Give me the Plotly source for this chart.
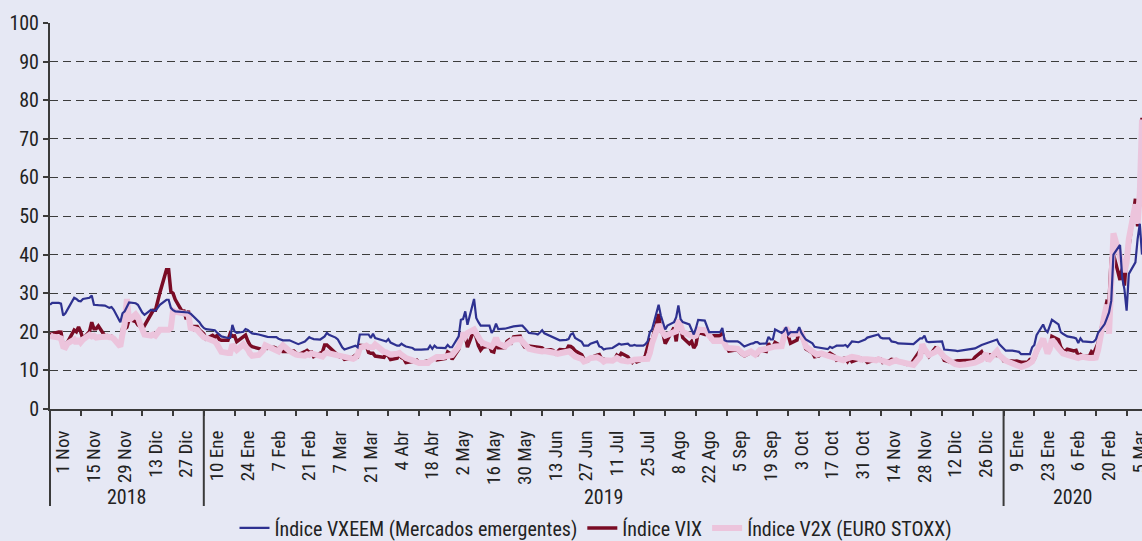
import pandas as pd
import plotly.graph_objects as go

START = "2018-11-01"
END = "2020-03-12"
dates = pd.bdate_range(START, END)

# Índice VXEEM (Mercados emergentes) - one value per weekday
vxeem = [
    27.0, 27.5,
    27.5, 27.3, 24.2, 24.8, 25.8,
    28.8, 28.5, 28.0, 27.9, 28.5,
    28.8, 29.4, 27.0, 27.0, 26.9,
    26.8, 26.5, 26.2, 26.4, 25.7,
    22.5, 24.8, 25.3, 26.5, 27.6,
    27.4, 27.0, 26.0, 25.0, 24.4,
    25.7, 25.5, 25.5, 26.2, 27.0,
    28.3, 28.3, 26.2, 25.6, 25.3,
    25.2, 25.2, 25.0, 25.0, 24.7,
    23.1, 22.5, 21.6, 21.0, 20.7,
    20.4, 20.4, 19.8, 19.3, 18.8,
    18.4, 18.4, 21.8, 20.1, 19.7,
    20.0, 20.7, 20.5, 20.0, 19.6,
    19.3, 19.1, 18.9, 18.7, 18.7,
    18.6, 18.6, 18.2, 18.0, 17.8,
    17.8, 17.5, 17.2, 16.9, 16.8,
    17.5, 18.0, 18.6, 18.3, 18.1,
    18.0, 18.4, 18.8, 19.7, 19.2,
    18.5, 18.0, 17.0, 16.0, 15.4,
    15.9, 16.2, 16.4, 16.0, 19.3,
    19.3, 19.3, 18.4, 19.5, 18.4,
    18.0, 17.7, 17.5, 18.1, 17.2,
    16.4, 16.4, 16.9, 16.5, 16.2,
    15.8, 15.4, 15.4, 15.3, 15.4,
    15.5, 16.4, 15.6, 16.4, 15.9,
    15.8, 15.8, 16.6, 16.0, 16.0,
    18.8, 23.1, 23.3, 25.3, 21.8,
    28.5, 23.6, 22.5, 21.6, 21.6,
    21.6, 19.7, 20.5, 22.1, 20.7,
    20.8, 21.0, 21.1, 21.2, 21.4,
    21.6, 21.6, 21.0, 20.4, 19.7,
    19.5, 19.3, 19.8, 20.4, 19.6,
    18.8, 18.4, 18.2, 17.9, 17.8,
    17.9, 18.1, 19.3, 19.6, 18.4,
    17.4, 16.4, 16.4, 16.4, 16.9,
    17.5, 16.2, 16.0, 15.4, 15.6,
    15.8, 16.1, 16.5, 16.9, 16.7,
    16.9, 16.4, 16.4, 16.6, 16.4,
    16.4, 16.8, 17.5, 19.9, 20.6,
    27.0, 24.2, 22.5, 20.6, 21.6,
    22.5, 23.8, 26.8, 23.3, 22.5,
    21.9, 20.5, 19.3, 21.0, 23.1,
    22.9, 21.4, 19.9, 19.9, 19.9,
    19.9, 21.0, 17.8, 17.6, 17.5,
    17.5, 17.5, 17.2, 16.6, 16.2,
    16.9, 17.0, 17.3, 17.3, 16.9,
    17.0, 18.7, 18.0, 18.0, 20.6,
    19.7, 20.2, 21.2, 19.3, 19.9,
    19.9, 21.2, 19.7, 18.8, 18.0,
    17.0, 16.1, 16.0, 15.9, 15.8,
    15.5, 16.1, 15.8, 16.1, 16.4,
    16.4, 16.6, 16.1, 16.8, 17.5,
    17.3, 17.5, 17.8, 18.0, 18.5,
    19.0, 19.1, 19.3, 18.5, 18.3,
    18.3, 17.5, 17.4, 17.3, 17.0,
    16.9, 16.8, 16.8, 16.8, 16.8,
    18.3, 18.3, 19.0, 17.5, 17.3,
    17.4, 17.5, 17.5, 17.5, 15.4,
    15.3, 15.1, 15.1, 15.0, 15.1,
    15.3, 15.4, 15.5, 15.6, 15.7,
    16.6, 16.8, 17.0, 17.2, 17.2,
    18.0, 16.8, 16.2, 15.6, 15.1,
    15.1, 15.0, 15.0, 14.8, 14.2,
    14.2, 14.2, 16.0, 16.6, 19.1,
    21.9, 20.5, 19.9, 21.5, 23.1,
    21.9, 19.9, 19.5, 19.1, 18.8,
    18.5, 18.3, 17.1, 18.3, 17.5,
    17.3, 17.3, 17.4, 18.0, 19.7,
    22.0, 23.5, 25.0, 28.0, 40.0,
    42.5, 34.0, 31.0, 25.5, 35.0,
    38.0, 44.0, 48.0, 40.0,
]

# Índice VIX
vix = [
    19.34, 19.51,
    19.96, 19.91, 16.36, 16.72, 17.36,
    20.45, 20.02, 21.25, 19.98, 18.14,
    20.10, 22.48, 20.80, 20.80, 21.52,
    18.90, 19.02, 18.49, 18.79, 18.07,
    16.44, 20.74, 20.74, 21.19, 23.23,
    22.64, 21.76, 21.46, 20.65, 21.63,
    24.52, 25.58, 25.58, 28.38, 30.11,
    36.07, 36.07, 30.41, 29.96, 28.34,
    25.42, 25.42, 23.22, 25.45, 21.38,
    21.40, 20.47, 19.98, 19.50, 18.19,
    19.07, 18.60, 19.04, 18.06, 17.80,
    17.80, 19.52, 18.89, 18.93, 17.42,
    18.87, 19.13, 17.66, 16.57, 16.14,
    15.73, 15.57, 15.38, 16.37, 15.72,
    15.97, 15.65, 15.43, 16.22, 14.91,
    14.91, 14.88, 15.02, 14.46, 14.02,
    14.85, 15.17, 14.70, 14.78, 13.57,
    14.63, 14.74, 16.59, 16.59, 16.05,
    14.33, 13.77, 13.41, 13.50, 12.88,
    13.10, 13.56, 13.91, 13.63, 16.48,
    16.33, 14.68, 14.43, 14.43, 13.71,
    13.40, 13.36, 14.29, 13.74, 12.82,
    13.18, 14.28, 13.30, 13.02, 12.01,
    12.32, 12.18, 12.60, 12.09, 12.09,
    12.42, 12.28, 12.73, 13.14, 12.73,
    13.11, 13.12, 14.80, 14.42, 12.87,
    15.44, 19.32, 19.40, 19.10, 16.04,
    20.55, 18.06, 16.44, 15.29, 15.96,
    16.31, 14.95, 14.75, 16.92, 15.85,
    15.85, 17.50, 17.90, 17.30, 18.71,
    18.86, 16.97, 16.09, 15.93, 16.30,
    15.94, 15.99, 15.91, 15.82, 15.28,
    15.35, 15.15, 14.33, 14.75, 15.40,
    15.26, 16.28, 16.21, 15.82, 15.08,
    14.06, 12.93, 12.57, 12.57, 13.28,
    13.96, 14.09, 13.03, 12.93, 12.39,
    12.68, 12.86, 13.97, 13.53, 14.45,
    13.53, 12.61, 12.07, 12.74, 12.16,
    12.83, 13.94, 16.12, 17.87, 17.61,
    24.59, 20.17, 19.49, 16.91, 17.97,
    21.09, 17.52, 22.10, 21.18, 18.47,
    16.88, 17.50, 15.80, 16.68, 19.87,
    19.32, 20.31, 19.35, 17.88, 18.98,
    18.98, 19.66, 17.33, 16.27, 15.00,
    15.27, 15.20, 14.61, 14.22, 13.74,
    14.67, 14.44, 13.95, 14.05, 15.32,
    14.91, 17.05, 15.96, 16.07, 17.22,
    16.24, 18.56, 20.56, 19.12, 17.04,
    17.86, 20.28, 18.64, 17.57, 15.58,
    14.57, 13.54, 13.68, 13.79, 14.25,
    14.00, 14.46, 14.01, 13.71, 12.65,
    13.11, 13.20, 12.33, 13.22, 12.30,
    12.83, 13.10, 12.62, 12.73, 12.07,
    12.69, 12.68, 13.05, 13.00, 12.05,
    12.46, 12.86, 12.78, 12.72, 12.34,
    11.87, 11.54, 11.75, 11.75, 12.62,
    14.91, 15.96, 14.80, 14.52, 13.62,
    15.86, 15.68, 14.99, 13.94, 12.63,
    12.14, 12.29, 12.58, 12.50, 12.51,
    12.61, 12.67, 12.67, 12.65, 13.43,
    14.82, 13.78, 13.78, 12.47, 14.02,
    13.85, 13.79, 13.45, 12.54, 12.56,
    12.32, 12.39, 12.42, 12.32, 12.10,
    12.10, 12.85, 12.91, 12.98, 14.56,
    18.23, 16.28, 16.39, 15.49, 18.84,
    17.97, 16.05, 15.15, 14.96, 15.47,
    15.04, 15.18, 13.74, 14.15, 13.68,
    13.68, 14.83, 14.38, 15.56, 17.08,
    25.03, 27.85, 27.56, 39.16, 40.11,
    33.42, 36.82, 31.99, 39.62, 41.94,
    54.46, 47.30, 53.90, 75.47,
]

# Índice V2X (EURO STOXX)
v2x = [
    19.2, 18.8,
    18.5, 18.3, 16.2, 16.0, 17.0,
    18.0, 17.0, 18.2, 17.3, 18.0,
    19.2, 18.8, 19.0, 18.5, 18.6,
    19.0, 18.8, 18.6, 18.6, 18.2,
    16.2, 19.5, 22.0, 28.5, 23.0,
    24.5, 23.8, 22.0, 20.5, 19.3,
    19.0, 19.3, 19.0, 20.0, 20.5,
    20.5, 20.5, 21.0, 25.5, 25.2,
    25.0, 25.0, 24.8, 24.5, 21.0,
    20.5, 19.8, 19.0, 18.6, 18.4,
    18.0, 17.5, 16.8, 15.5, 14.8,
    14.5, 14.5, 16.7, 15.6, 15.3,
    16.8, 16.2, 15.5, 14.4, 13.8,
    14.0, 14.5, 15.2, 16.5, 16.2,
    15.4, 15.0, 14.9, 15.8, 16.5,
    15.0, 14.6, 14.3, 14.1, 14.0,
    13.8, 14.2, 14.0, 14.4, 14.2,
    13.8, 13.6, 14.3, 14.6, 14.4,
    14.0, 13.8, 13.6, 13.6, 13.4,
    13.2, 13.0, 13.3, 14.0, 15.8,
    16.4, 16.0, 16.2, 16.0, 16.7,
    15.0, 14.8, 14.7, 14.4, 14.1,
    14.3, 14.5, 14.0, 13.5, 13.2,
    12.6, 12.3, 12.0, 11.9, 11.9,
    11.9, 12.5, 12.8, 13.3, 13.5,
    13.5, 13.6, 13.7, 14.1, 14.0,
    16.2, 18.5, 19.7, 18.8, 19.7,
    20.6, 19.5, 18.4, 17.6, 17.1,
    16.5, 16.2, 17.0, 18.4, 17.0,
    16.2, 16.7, 17.0, 17.5, 18.0,
    18.1, 17.5, 16.4, 16.0, 15.6,
    15.2, 15.0, 14.9, 14.9, 15.0,
    14.9, 14.6, 14.5, 14.3, 14.5,
    14.8, 14.9, 14.6, 14.0, 13.6,
    13.0, 12.3, 12.5, 12.8, 13.2,
    13.4, 13.2, 12.8, 12.3, 12.6,
    12.5, 12.8, 13.2, 12.9, 12.6,
    12.3, 12.3, 12.5, 12.8, 12.9,
    12.8, 12.9, 13.0, 14.5, 17.0,
    21.9, 20.5, 19.7, 19.0, 19.3,
    19.8, 20.1, 23.1, 21.5, 20.0,
    19.2, 18.9, 18.8, 19.0, 20.6,
    20.4, 20.1, 19.0, 18.0, 17.6,
    17.6, 18.0, 17.0, 15.9, 15.8,
    15.8, 15.6, 15.0, 14.3, 14.1,
    14.9, 14.6, 14.1, 14.6, 15.2,
    15.6, 15.8, 15.9, 16.0, 16.2,
    16.3, 19.3, 21.0, 20.2, 19.3,
    19.5, 20.1, 19.7, 18.0, 16.2,
    14.9, 14.2, 14.1, 14.3, 14.4,
    13.8, 13.6, 13.5, 13.2, 12.8,
    12.6, 12.9, 13.2, 13.4, 13.5,
    13.2, 12.8, 12.9, 13.0, 12.9,
    12.7, 12.6, 12.9, 12.7, 12.6,
    11.9, 12.2, 12.5, 12.6, 12.3,
    11.9, 11.8, 11.6, 11.5, 11.4,
    13.5, 16.8, 15.5, 14.4, 14.0,
    14.8, 15.4, 14.8, 14.0, 13.5,
    12.3, 11.8, 11.6, 11.5, 11.4,
    11.6, 11.7, 11.8, 11.8, 12.0,
    12.8, 13.5, 14.4, 12.5, 13.2,
    15.0, 14.0, 13.5, 12.7, 12.5,
    11.8, 11.5, 11.2, 11.0, 10.9,
    11.5, 11.8, 12.3, 13.5, 15.0,
    18.2, 16.0, 14.4, 15.5, 18.0,
    15.7, 14.8, 14.4, 14.2, 14.0,
    13.8, 13.4, 13.2, 13.4, 13.5,
    13.2, 13.4, 13.2, 13.3, 15.2,
    24.5, 27.0, 19.5, 38.0, 45.5,
    39.5, 37.5, 35.5, 38.0, 44.0,
    53.0, 48.0, 56.0, 75.0,
]

tick_labels = [
    "1 Nov", "15 Nov", "29 Nov", "13 Dic", "27 Dic",
    "10 Ene", "24 Ene", "7 Feb", "21 Feb", "7 Mar", "21 Mar", "4 Abr", "18 Abr",
    "2 May", "16 May", "30 May", "13 Jun", "27 Jun", "11 Jul", "25 Jul", "8 Ago",
    "22 Ago", "5 Sep", "19 Sep", "3 Oct", "17 Oct", "31 Oct", "14 Nov", "28 Nov",
    "12 Dic", "26 Dic",
    "9 Ene", "23 Ene", "6 Feb", "20 Feb", "5 Mar",
]
years = ["2018", "2019", "2020"]
year_first_label = [0, 5, 31]

assert len(vxeem) == len(dates), len(vxeem)
assert len(vix) == len(dates), len(vix)
assert len(v2x) == len(dates), len(v2x)

label_dates = pd.date_range(START, periods=len(tick_labels), freq="14D")
label_pos = label_dates + pd.Timedelta(days=6)

FONT = "Roboto Condensed, Liberation Sans Narrow, DejaVu Sans Condensed, Arial Narrow, sans-serif"
AX = "#3a3a3a"
BG = "#e6e8f4"
FS = 20

fig = go.Figure()
fig.add_trace(go.Scatter(x=dates, y=vix, mode="lines", name="Índice VIX",
                         line=dict(color="#7a0c25", width=3.5), legendrank=2))
fig.add_trace(go.Scatter(x=dates, y=v2x, mode="lines", name="Índice V2X (EURO STOXX)",
                         line=dict(color="#ecc4dc", width=6), legendrank=3))
fig.add_trace(go.Scatter(x=dates, y=vxeem, mode="lines", name="Índice VXEEM (Mercados emergentes)",
                         line=dict(color="#2e3190", width=2.2), legendrank=1))

# year separators
sep_y = -(506 - 409) / 386
bounds = [label_dates[i] for i in year_first_label] + [pd.Timestamp(END)]
shapes = [dict(type="line", xref="paper", yref="paper", x0=0, x1=0, y0=0, y1=sep_y,
               line=dict(color=AX, width=2))]
for b in bounds[1:-1]:
    shapes.append(dict(type="line", xref="x", yref="paper", x0=b, x1=b, y0=0, y1=sep_y,
                       line=dict(color=AX, width=2)))
annotations = []
for i, yr in enumerate(years):
    mid = bounds[i] + (bounds[i + 1] - bounds[i]) / 2
    annotations.append(dict(x=mid, xref="x", y=(409 - 497) / 386, yref="paper",
                            text=yr, showarrow=False, yanchor="middle",
                            font=dict(size=FS, color="#222", family=FONT)))

fig.update_layout(
    width=1142, height=541,
    margin=dict(l=50, r=0, t=23, b=132, autoexpand=False),
    paper_bgcolor=BG, plot_bgcolor=BG,
    font=dict(family=FONT, size=FS, color="#222"),
    shapes=shapes, annotations=annotations,
    showlegend=True,
    legend=dict(orientation="h", x=0.5, xanchor="center", y=-0.308, yanchor="middle",
                bgcolor="rgba(0,0,0,0)", font=dict(size=FS, family=FONT), traceorder="normal"),
    hovermode=False,
)
fig.update_xaxes(
    type="date", range=[pd.Timestamp(START), pd.Timestamp(END)], automargin=False,
    tickmode="array", tickvals=label_pos, ticktext=tick_labels, tickangle=-90,
    ticks="", showgrid=False, zeroline=False,
    showline=True, linecolor=AX, linewidth=2,
    tickfont=dict(size=19, family=FONT, color="#222"),
    ticklabelstandoff=12, ticklabeloverflow="allow",
    minor=dict(tickmode="array", tickvals=label_dates, ticks="outside", ticklen=5,
               tickcolor=AX, tickwidth=1.5, showgrid=False),
)
fig.update_yaxes(
    range=[0, 100], dtick=10, tick0=0, automargin=False,
    showline=True, linecolor=AX, linewidth=2,
    ticks="outside", ticklen=5, tickcolor=AX, tickwidth=1.5,
    showgrid=True, gridcolor="#3c3c3c", gridwidth=1, griddash="8px,5px",
    zeroline=False,
    tickfont=dict(size=FS, family=FONT, color="#222"),
)

fig.write_html("out.html", config={"displayModeBar": False},
               post_script="document.body.style.margin='0';")
